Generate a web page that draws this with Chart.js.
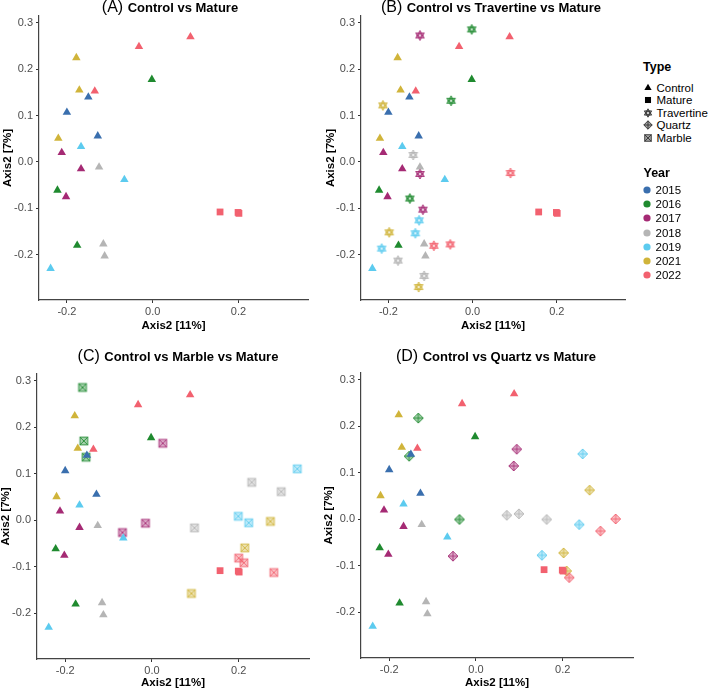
<!DOCTYPE html>
<html><head><meta charset="utf-8">
<script src="https://cdn.jsdelivr.net/npm/chart.js@4.4.1/dist/chart.umd.min.js"></script>
<style>
body{margin:0;background:#fff;width:709px;height:690px;overflow:hidden;position:relative;font-family:'Liberation Sans',Arial,sans-serif;}
canvas{position:absolute;}
.ttl{position:absolute;width:320px;text-align:center;white-space:nowrap;color:#000;line-height:18px;height:18px;}
.ttl .lab{font-size:16px;font-weight:normal;}
.ttl b{font-size:13px;}
.lg{position:absolute;white-space:nowrap;color:#000;line-height:14px;height:14px;font-size:11.5px;}
.lg.h{font-weight:bold;font-size:12.5px;}
</style></head>
<body>
<script>
// ---------- data ----------
const years = ['2015','2016','2017','2018','2019','2021','2022'];
const yearColors = ['#3a6fae','#1f8a2f','#a52a74','#b5b5b5','#5ccbef','#d0b43a','#f2616f'];
const typeNames = ['Control','Mature','Travertine','Quartz','Marble'];
const xTicks = [-0.2, 0.0, 0.2];
const yTicks = [-0.2, -0.1, 0.0, 0.1, 0.2, 0.3];
const axisTitleX = 'Axis2 [11%]';
const axisTitleY = 'Axis2 [7%]';

const controlX = [0.088,-0.032,-0.178,-0.002,-0.171,-0.135,-0.150,-0.200,-0.220,-0.128,-0.167,-0.212,-0.167,-0.125,-0.066,-0.222,-0.202,-0.176,-0.115,-0.112,-0.238];
const controlY = [0.270,0.249,0.225,0.178,0.155,0.153,0.140,0.107,0.051,0.056,0.033,0.020,-0.015,-0.011,-0.038,-0.061,-0.075,-0.180,-0.177,-0.203,-0.230];
const controlYear = ['2022','2022','2021','2016','2021','2022','2015','2015','2021','2015','2019','2017','2017','2018','2019','2016','2017','2016','2018','2018','2019'];

const matureX = [0.157,0.199,0.201];
const matureY = [-0.108,-0.109,-0.111];
const matureYear = ['2022','2022','2022'];

const travertineX = [-0.125,-0.002,-0.213,-0.051,-0.141,-0.125,0.090,-0.149,-0.118,-0.127,-0.198,-0.136,-0.216,-0.092,-0.053,-0.177,-0.115,-0.128];
const travertineY = [0.273,0.286,0.122,0.132,0.015,-0.026,-0.024,-0.079,-0.103,-0.126,-0.152,-0.154,-0.187,-0.181,-0.178,-0.213,-0.246,-0.270];
const travertineYear = ['2017','2016','2021','2016','2018','2017','2022','2016','2017','2019','2021','2019','2019','2022','2022','2018','2018','2021'];

const marbleX = [-0.160,-0.157,-0.152,0.025,0.230,0.298,0.335,0.199,0.223,0.273,-0.015,-0.068,0.098,0.214,0.200,0.212,0.281,0.091];
const marbleY = [0.286,0.171,0.136,0.166,0.082,0.062,0.111,0.009,-0.005,-0.002,-0.006,-0.026,-0.016,-0.059,-0.081,-0.091,-0.112,-0.157];
const marbleYear = ['2016','2016','2016','2017','2018','2018','2019','2019','2019','2021','2017','2017','2018','2021','2022','2022','2022','2021'];

const quartzX = [-0.133,-0.154,0.094,0.087,0.246,0.262,-0.038,0.071,0.099,0.163,0.238,0.287,0.322,-0.053,0.152,0.202,0.209,0.215];
const quartzY = [0.218,0.136,0.151,0.115,0.141,0.063,0.000,0.009,0.012,0.000,-0.011,-0.025,0.001,-0.079,-0.077,-0.072,-0.111,-0.125];
const quartzYear = ['2016','2016','2017','2017','2019','2021','2016','2018','2018','2018','2019','2022','2022','2017','2019','2021','2021','2022'];

// ---------- helpers ----------
const FONT = "'Liberation Sans', Arial, sans-serif";
function colorOf(y){ return yearColors[years.indexOf(y)]; }
function rgba(hex,a){const n=parseInt(hex.slice(1),16);return `rgba(${n>>16&255},${n>>8&255},${n&255},${a})`;}
function poly(ctx,cx,cy,s,off){ctx.beginPath();for(let k=0;k<3;k++){const a=off+k*2*Math.PI/3;const px=cx+s*Math.cos(a),py=cy+s*Math.sin(a);k?ctx.lineTo(px,py):ctx.moveTo(px,py);}ctx.closePath();}
function drawShape(ctx,type,color,cx,cy,s,fa,sa){
  ctx.lineWidth=1;
  ctx.fillStyle=rgba(color,fa); ctx.strokeStyle=rgba(color,sa);
  if(type==='Control'){poly(ctx,cx,cy,s,-Math.PI/2);ctx.fill();}
  else if(type==='Mature'){const h=s*0.72;ctx.fillRect(cx-h,cy-h,2*h,2*h);}
  else if(type==='Travertine'){
    for(const off of [-Math.PI/2,Math.PI/2]){poly(ctx,cx,cy,s,off);ctx.fill();ctx.stroke();}
    ctx.beginPath();ctx.arc(cx,cy,1.5,0,2*Math.PI);ctx.fillStyle='#fff';ctx.fill();ctx.stroke();
  } else if(type==='Quartz'){
    ctx.beginPath();ctx.moveTo(cx,cy-s);ctx.lineTo(cx+s,cy);ctx.lineTo(cx,cy+s);ctx.lineTo(cx-s,cy);ctx.closePath();ctx.fill();ctx.stroke();
    ctx.beginPath();ctx.moveTo(cx,cy-s);ctx.lineTo(cx,cy+s);ctx.moveTo(cx-s,cy);ctx.lineTo(cx+s,cy);ctx.stroke();
  } else if(type==='Marble'){
    const h=s*0.78;ctx.fillRect(cx-h,cy-h,2*h,2*h);ctx.strokeRect(cx-h,cy-h,2*h,2*h);
    ctx.beginPath();ctx.moveTo(cx-h,cy-h);ctx.lineTo(cx+h,cy+h);ctx.moveTo(cx+h,cy-h);ctx.lineTo(cx-h,cy+h);ctx.stroke();
  }
}
const markerCache={};
function marker(type,color){
  const key=type+color; if(markerCache[key]) return markerCache[key];
  const c=document.createElement('canvas');c.width=14;c.height=14;
  drawShape(c.getContext('2d'),type,color,7,7,5,0.4,0.85);
  markerCache[key]=c;return c;
}
function pts(xs,ys){return xs.map((x,i)=>({x:x,y:ys[i]}));}

function makeDatasets(extraType,ex,ey,eyr){
  const ds=[];
  ds.push({label:'Control',data:pts(controlX,controlY),pointStyle:'triangle',pointRadius:4.9,pointHoverRadius:4.9,
    pointBackgroundColor:controlYear.map(colorOf),pointBorderWidth:0,showLine:false});
  ds.push({label:'Mature',data:pts(matureX,matureY),pointStyle:'rect',pointRadius:4.8,pointHoverRadius:4.8,
    pointBackgroundColor:matureYear.map(colorOf),pointBorderWidth:0,showLine:false});
  if(extraType){
    ds.push({label:extraType,data:pts(ex,ey),pointStyle:eyr.map(y=>marker(extraType,colorOf(y))),pointRadius:5,pointHoverRadius:5,
      pointBorderWidth:0,showLine:false});
  }
  return ds;
}

const panels=[
 {lab:'(A)',title:'Control vs Mature',left:0,top:0,w:320,h:340,area:{l:39,t:16,r:308,b:300},ytx:8,xty:326,tcx:170,tby:12.5,type:null},
 {lab:'(B)',title:'Control vs Travertine vs Mature',left:318,top:0,w:320,h:340,area:{l:361,t:16,r:625,b:300},ytx:331,xty:326,tcx:491,tby:12.5,type:'Travertine',x:travertineX,y:travertineY,yr:travertineYear},
 {lab:'(C)',title:'Control vs Marble vs Mature',left:-2,top:340,w:332,h:350,area:{l:37,t:374,r:309,b:659},ytx:6,xty:682.5,tcx:178,tby:361,type:'Marble',x:marbleX,y:marbleY,yr:marbleYear},
 {lab:'(D)',title:'Control vs Quartz vs Mature',left:316,top:340,w:393,h:350,area:{l:361,t:373,r:633,b:658},ytx:329,xty:682.5,tcx:496,tby:361,type:'Quartz',x:quartzX,y:quartzY,yr:quartzYear}
];

const tickFont={family:FONT,size:11};
const titleFont={family:FONT,size:11.5,weight:'bold'};

panels.forEach(p=>{
  const cv=document.createElement('canvas');
  cv.width=p.w;cv.height=p.h;cv.style.left=p.left+'px';cv.style.top=p.top+'px';
  cv.style.width=p.w+'px';cv.style.height=p.h+'px';
  document.body.appendChild(cv);
  const yW=p.area.l-p.left, xH=p.top+p.h-p.area.b;
  new Chart(cv,{
    type:'scatter',
    data:{datasets:makeDatasets(p.type,p.x,p.y,p.yr)},
    options:{
      responsive:false,animation:false,devicePixelRatio:1,
      layout:{padding:{top:p.area.t-p.top,right:p.left+p.w-p.area.r,left:0,bottom:0}},
      plugins:{legend:{display:false},tooltip:{enabled:false},title:{display:false}},
      scales:{
        x:{type:'linear',min:-0.265,max:0.362,
          afterBuildTicks:s=>{s.ticks=xTicks.map(v=>({value:v}));},
          afterFit:s=>{s.height=xH;},
          ticks:{font:tickFont,color:'#4d4d4d',padding:2,maxRotation:0,callback:v=>Number(v).toFixed(1)},
          grid:{display:true,drawOnChartArea:false,drawTicks:true,tickLength:3,color:'#333'},
          border:{display:true,color:'#444',width:1.2},
          title:{display:true,text:axisTitleX,font:titleFont,color:'#000',padding:{top:0,bottom:p.top+p.h-p.xty-6.9}}},
        y:{type:'linear',min:-0.298,max:0.315,
          afterBuildTicks:s=>{s.ticks=yTicks.map(v=>({value:v}));},
          afterFit:s=>{s.width=yW;},
          ticks:{font:tickFont,color:'#4d4d4d',padding:3,callback:v=>Number(v).toFixed(1)},
          grid:{display:true,drawOnChartArea:false,drawTicks:true,tickLength:3,color:'#333'},
          border:{display:true,color:'#444',width:1.2},
          title:{display:true,text:axisTitleY,font:titleFont,color:'#000',padding:{top:p.ytx-p.left-6.9,bottom:0}}}
      }
    }
  });
  const t=document.createElement('div');t.className='ttl';
  t.style.left=(p.tcx-160)+'px';t.style.top=(p.tby-14.5)+'px';
  t.innerHTML='<span class="lab">'+p.lab+'</span> <b>'+p.title+'</b>';
  document.body.appendChild(t);
});

// ---------- legend ----------
function lgText(txt,x,cy,cls){const d=document.createElement('div');d.className='lg'+(cls?' '+cls:'');d.style.left=x+'px';d.style.top=(cy-7)+'px';d.textContent=txt;document.body.appendChild(d);}
function lgMark(fn,cx,cy){const c=document.createElement('canvas');c.width=12;c.height=12;c.style.left=(cx-6)+'px';c.style.top=(cy-6)+'px';fn(c.getContext('2d'));document.body.appendChild(c);}
lgText('Type',643,67,'h');
const typeY=[87.7,100.3,112.7,125,137.5];
typeNames.forEach((t,i)=>{
  const fa = t==='Control'||t==='Mature'?1:0.45;
  lgMark(ctx=>drawShape(ctx,t,t==='Control'||t==='Mature'?'#000000':'#333333',6,6,4.2,fa,0.9),647.7,typeY[i]);
  lgText(t,656.5,typeY[i]);
});
lgText('Year',643.5,173,'h');
years.forEach((y,i)=>{
  const cy=190+i*14.2;
  lgMark(ctx=>{ctx.beginPath();ctx.arc(6,6,3.6,0,2*Math.PI);ctx.fillStyle=yearColors[i];ctx.fill();},647.3,cy);
  lgText(y,655.5,cy);
});
</script>
</body></html>
